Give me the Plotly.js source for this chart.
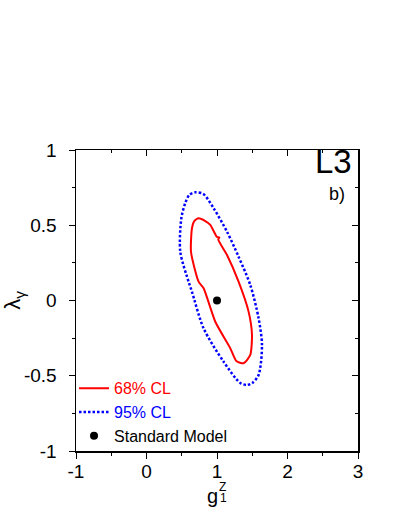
<!DOCTYPE html>
<html>
<head>
<meta charset="utf-8">
<script src="https://cdn.plot.ly/plotly-3.0.1.min.js"></script>
<style>
  body { margin: 0; background: #fff; }
  #chart { width: 407px; height: 527px; }
</style>
</head>
<body>
<div id="chart"></div>
<script>
// 68% CL contour (g1Z, lambda_gamma)
const cl68X = [0.739, 0.834, 0.905, 1.000, 1.033, 1.018, 1.142, 1.306, 1.448, 1.496, 1.472, 1.377, 1.274, 1.189, 0.976, 0.810, 0.739, 0.631, 0.645, 0.678, 0.739];
const cl68Y = [0.546, 0.528, 0.502, 0.422, 0.419, 0.405, 0.302, 0.125, -0.074, -0.229, -0.362, -0.417, -0.402, -0.318, -0.141, 0.081, 0.125, 0.324, 0.480, 0.528, 0.546];

// 95% CL contour
const cl95X = [0.692, 0.806, 0.952, 1.142, 1.306, 1.472, 1.590, 1.638, 1.590, 1.501, 1.426, 1.330, 1.094, 0.810, 0.645, 0.597, 0.479, 0.494, 0.550, 0.607, 0.692];
const cl95Y = [0.719, 0.708, 0.613, 0.457, 0.291, 0.103, -0.118, -0.296, -0.495, -0.548, -0.561, -0.548, -0.407, -0.185, 0.058, 0.125, 0.324, 0.546, 0.648, 0.701, 0.719];

// Standard Model point
const smX = [1];
const smY = [0];

// tick labels (plain hyphen minus, as in the figure)
const xTickVals = [-1, 0, 1, 2, 3];
const xTickText = ['-1', '0', '1', '2', '3'];
const yTickVals = [-1, -0.5, 0, 0.5, 1];
const yTickText = ['-1', '-0.5', '0', '0.5', '1'];

const font = 'Liberation Sans, Arial, Helvetica, sans-serif';

// 95% trace sits on the top x axis and the SM point on the right y axis,
// both axes match the main ones, so the mirrored frame gets inside ticks
const traces = [
    {
        x: cl68X, y: cl68Y,
        type: 'scatter', mode: 'lines',
        line: { color: '#ff0000', width: 2, shape: 'spline', smoothing: 0.6 },
        name: '<span style="color:#ff0000">68% CL</span>'
    },
    {
        x: cl95X, y: cl95Y,
        xaxis: 'x2', yaxis: 'y',
        type: 'scatter', mode: 'lines',
        line: { color: '#0000ff', width: 2.5, dash: '2.5px,2px', shape: 'spline', smoothing: 0.8 },
        name: '<span style="color:#0000ff">95% CL</span>'
    },
    {
        x: smX, y: smY,
        xaxis: 'x', yaxis: 'y2',
        type: 'scatter', mode: 'markers',
        marker: { color: '#000000', size: 8 },
        name: 'Standard Model'
    }
];

const layout = {
    width: 407,
    height: 527,
    margin: { l: 76, r: 49, t: 150, b: 76 },
    paper_bgcolor: '#ffffff',
    plot_bgcolor: '#ffffff',
    font: { family: font, size: 19, color: '#000' },
    showlegend: true,
    legend: {
        x: -0.007, y: 0.265, xanchor: 'left', yanchor: 'top',
        bgcolor: 'rgba(0,0,0,0)',
        font: { size: 16, family: font },
        itemwidth: 30,
        tracegroupgap: 0
    },
    xaxis: {
        range: [-1, 3],
        tickvals: xTickVals, ticktext: xTickText,
        ticks: 'outside', ticklen: 6, tickwidth: 1, tickcolor: '#000',
        minor: { dtick: 0.5, ticks: 'outside', ticklen: 3, tickcolor: '#000' },
        showline: true, linecolor: '#000', linewidth: 1.5,
        showgrid: false, zeroline: false,
        tickfont: { size: 19 },
        ticklabelstandoff: -3
    },
    xaxis2: {
        overlaying: 'x', matches: 'x', side: 'top', anchor: 'y',
        range: [-1, 3], dtick: 1,
        ticks: 'inside', ticklen: 6, tickcolor: '#000',
        minor: { dtick: 0.5, ticks: 'inside', ticklen: 3, tickcolor: '#000' },
        showline: true, linecolor: '#000', linewidth: 1.5,
        showticklabels: false, showgrid: false, zeroline: false
    },
    yaxis: {
        range: [-1, 1],
        tickvals: yTickVals, ticktext: yTickText,
        ticks: 'outside', ticklen: 6, tickwidth: 1, tickcolor: '#000',
        minor: { dtick: 0.25, ticks: 'outside', ticklen: 3, tickcolor: '#000' },
        showline: true, linecolor: '#000', linewidth: 1.5,
        showgrid: false, zeroline: false,
        tickfont: { size: 19 },
        ticklabelstandoff: 8,
        title: { text: 'λ<sub>γ</sub>', font: { size: 22 }, standoff: 6 }
    },
    yaxis2: {
        overlaying: 'y', matches: 'y', side: 'right', anchor: 'x',
        range: [-1, 1], dtick: 0.5,
        ticks: 'inside', ticklen: 6, tickcolor: '#000',
        minor: { dtick: 0.25, ticks: 'inside', ticklen: 3, tickcolor: '#000' },
        showline: true, linecolor: '#000', linewidth: 1.5,
        showticklabels: false, showgrid: false, zeroline: false
    },
    annotations: [
        {
            text: 'L3', xref: 'paper', yref: 'paper', x: 0.985, y: 1.03,
            xanchor: 'right', yanchor: 'top', showarrow: false,
            font: { size: 33, family: font }
        },
        {
            text: 'b)', xref: 'paper', yref: 'paper', x: 0.96, y: 0.895,
            xanchor: 'right', yanchor: 'top', showarrow: false,
            font: { size: 18, family: font }
        },
        // x axis title g_1^Z, with the sub- and superscript stacked
        {
            text: 'g', xref: 'paper', yref: 'paper', x: 0.458, y: -0.148,
            xanchor: 'left', yanchor: 'middle', showarrow: false,
            font: { size: 20, family: font }
        },
        {
            text: 'Z', xref: 'paper', yref: 'paper', x: 0.5, y: -0.12,
            xanchor: 'left', yanchor: 'middle', showarrow: false,
            font: { size: 12, family: font }
        },
        {
            text: '1', xref: 'paper', yref: 'paper', x: 0.503, y: -0.155,
            xanchor: 'left', yanchor: 'middle', showarrow: false,
            font: { size: 12, family: font }
        }
    ]
};

Plotly.newPlot('chart', traces, layout, { staticPlot: true });
</script>
</body>
</html>
